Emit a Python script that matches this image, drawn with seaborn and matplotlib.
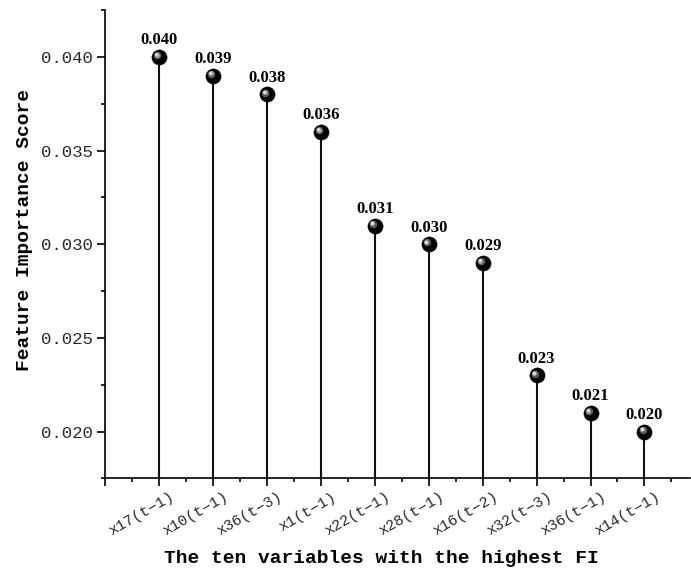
import matplotlib
matplotlib.use("Agg")
import matplotlib.pyplot as plt
import matplotlib.transforms as mtransforms
from matplotlib.ticker import MultipleLocator, FixedLocator
import seaborn as sns
import pandas as pd

variables = ["x17(t\u22121)", "x10(t\u22121)", "x36(t\u22123)", "x1(t\u22121)", "x22(t\u22121)",
             "x28(t\u22121)", "x16(t\u22122)", "x32(t\u22123)", "x36(t\u22121)", "x14(t\u22121)"]
scores = [0.040, 0.039, 0.038, 0.036, 0.031, 0.030, 0.029, 0.023, 0.021, 0.020]
score_labels = ["0.040", "0.039", "0.038", "0.036", "0.031", "0.030", "0.029", "0.023", "0.021", "0.020"]
y_ticks = [0.020, 0.025, 0.030, 0.035, 0.040]
y_tick_labels = ["0.040", "0.035", "0.030", "0.025", "0.020"][::-1]

sns.set_theme(style="ticks")
plt.rcParams["font.family"] = ["Liberation Mono", "DejaVu Sans Mono"]

df = pd.DataFrame({"pos": list(range(len(variables))), "score": scores, "var": variables})

fig = plt.figure(figsize=(6.91, 5.76), dpi=100)
ax = fig.add_axes([0.152, 0.1693, 0.847, 0.8133])

ymin, ymax = 0.0175, 0.0425
ax.set_ylim(ymin, ymax)
ax.set_xlim(-1, 9.85)

ax.vlines(df["pos"], ymin, df["score"], color="#111111", linewidth=1.5, zorder=2)

sns.scatterplot(data=df, x="pos", y="score", ax=ax, s=120, color="black",
                edgecolor="black", linewidth=0.3, zorder=3, legend=False)
hl1 = mtransforms.offset_copy(ax.transData, fig=fig, x=-1.8, y=1.8, units="dots")
sns.scatterplot(data=df, x="pos", y="score", ax=ax, s=30, color="#5a5a5a",
                linewidth=0, zorder=4, legend=False, transform=hl1)
hl2 = mtransforms.offset_copy(ax.transData, fig=fig, x=-2.3, y=2.3, units="dots")
sns.scatterplot(data=df, x="pos", y="score", ax=ax, s=12, color="#a8a8a8",
                linewidth=0, zorder=5, legend=False, transform=hl2)
hl3 = mtransforms.offset_copy(ax.transData, fig=fig, x=-2.6, y=2.6, units="dots")
sns.scatterplot(data=df, x="pos", y="score", ax=ax, s=4, color="#e8e8e8",
                linewidth=0, zorder=6, legend=False, transform=hl3)

for p, v, lab in zip(df["pos"], scores, score_labels):
    ax.annotate(lab, (p, v), xytext=(0, 9), textcoords="offset points",
                ha="center", va="baseline", fontsize=12, fontweight="bold",
                family="Liberation Serif", color="black")

sns.despine(ax=ax, top=True, right=True)
for s in ["left", "bottom"]:
    ax.spines[s].set_linewidth(1.2)
    ax.spines[s].set_color("black")

ax.yaxis.set_major_locator(FixedLocator(y_ticks))
ax.set_yticklabels(y_tick_labels)
ax.yaxis.set_minor_locator(MultipleLocator(0.0025))
ax.xaxis.set_major_locator(FixedLocator(list(range(-1, len(variables)))))
ax.set_xticklabels([""] + variables)
ax.xaxis.set_minor_locator(FixedLocator([i + 0.5 for i in range(-1, len(variables))]))

ax.tick_params(axis="both", which="major", direction="out", length=6, width=1.2,
               color="black")
ax.tick_params(axis="both", which="minor", direction="out", length=3, width=1.2,
               color="black")
ax.tick_params(axis="y", which="major", labelsize=12.5, labelcolor="#2a2a2a", pad=3)
ax.tick_params(axis="x", which="major", labelsize=11, labelcolor="#2a2a2a", pad=2)

offset = mtransforms.ScaledTranslation(0.18, 0, fig.dpi_scale_trans)
for lbl in ax.get_xticklabels():
    lbl.set_rotation(30)
    lbl.set_ha("right")
    lbl.set_transform(lbl.get_transform() + offset)

ax.set_xlabel("The ten variables with the highest FI", fontsize=14, color="black",
              fontweight="bold")
ax.set_ylabel("Feature Importance Score", fontsize=14, color="black",
              fontweight="bold")
ax.xaxis.set_label_coords(0.472, -0.152)
ax.yaxis.set_label_coords(-0.123, 0.530)

ax.grid(False)
fig.savefig("out.png", dpi=100)
